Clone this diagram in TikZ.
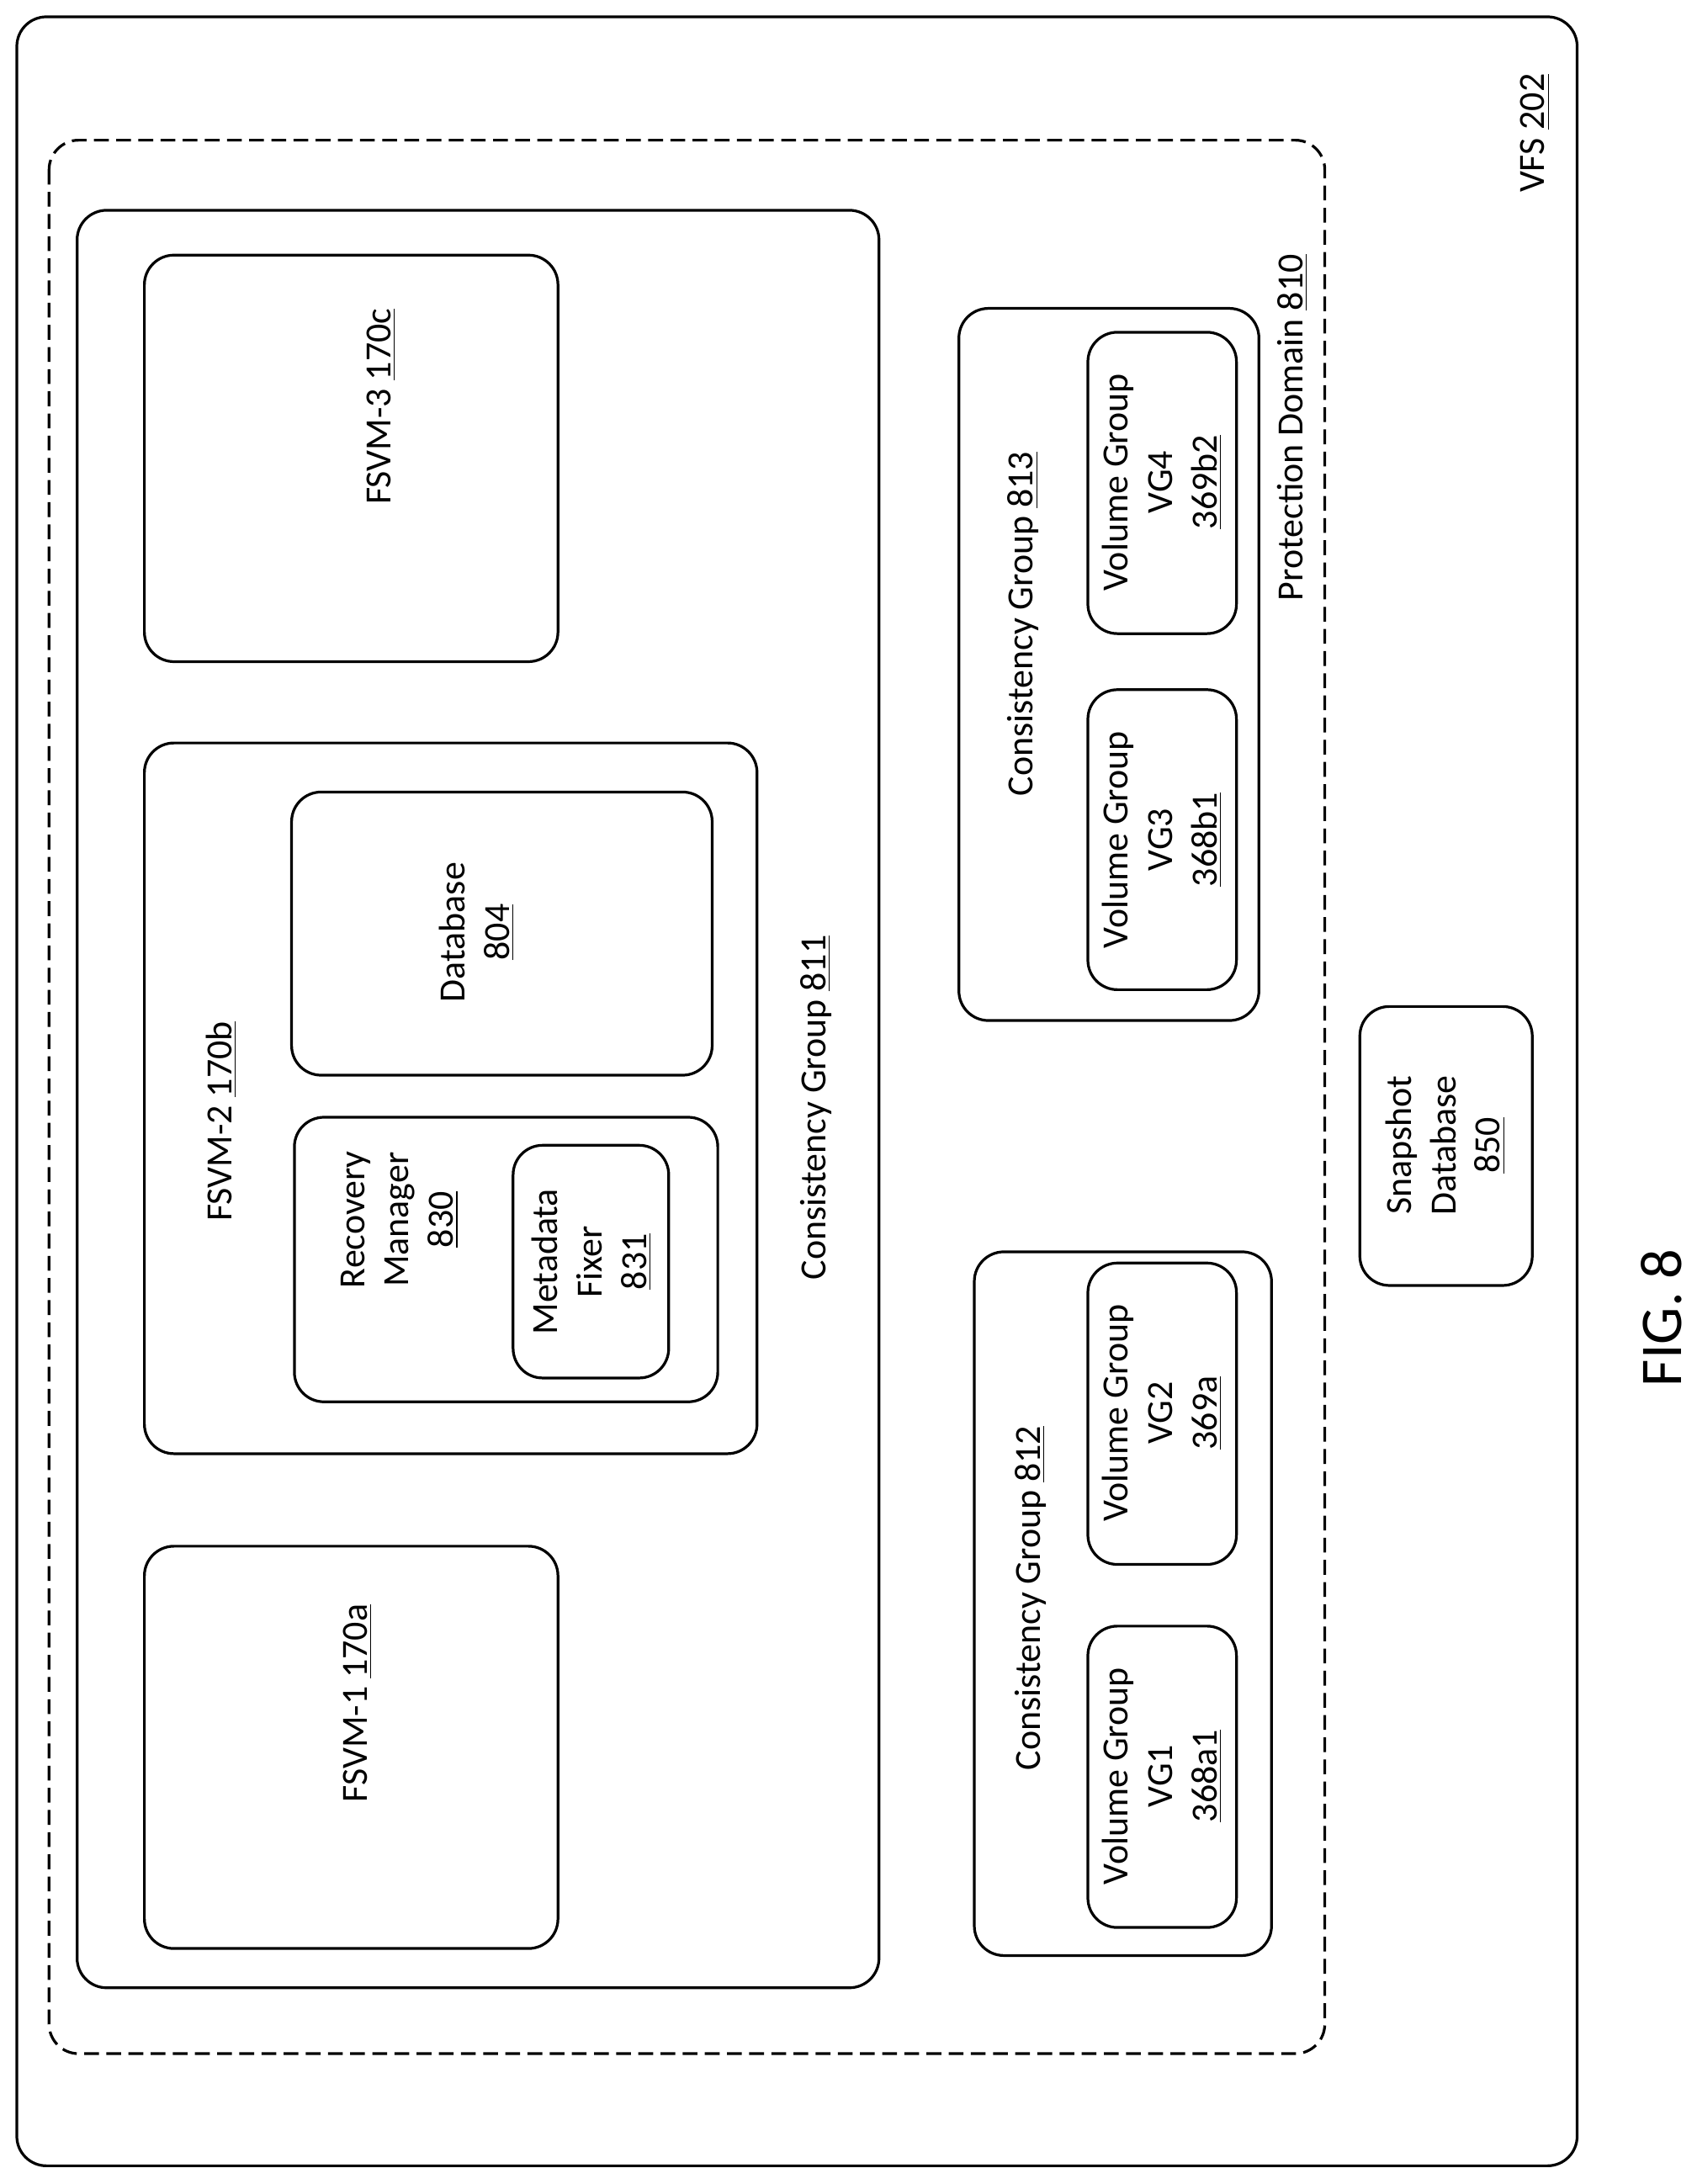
\documentclass[tikz,border=0pt]{standalone}
\usepackage{fontspec}
\setmainfont{Carlito}
\usetikzlibrary{positioning}
\begin{document}
\begin{tikzpicture}[x=0.02cm,y=-0.02cm,line width=1.1pt,font=\fontsize{15}{18}\selectfont]
    \tikzstyle{box}=[draw,rounded corners=12pt]
    \tikzstyle{dbox}=[draw,rounded corners=12pt,dash pattern=on 6pt off 3pt]
    \tikzstyle{lbl}=[rotate=90,align=center,inner sep=0pt]
    \useasboundingbox (0,0) rectangle (1210,1558);

    % outer frames
    \draw[box] (12,12) rectangle (1125,1545);
    \node[lbl] (vfs) at (1095,95) {VFS \underline{202}};
    \draw[dbox] (35,100) rectangle (945,1465);
    \node[lbl] (pd) at (922,305) {Protection Domain \underline{810}};

    % consistency group 811
    \draw[box] (55,150) rectangle (627,1418);
    \node[lbl] (cg811) at (582,790) {Consistency Group \underline{811}};
    \draw[box] (103,182) rectangle (398,472);
    \node[lbl] (fsvm3) at (272,290) {FSVM-3 \underline{170c}};
    \draw[box] (103,530) rectangle (540,1037);
    \node[lbl] (fsvm2) at (158,800) {FSVM-2 \underline{170b}};
    \draw[box] (208,565) rectangle (508,767);
    \node[lbl] (db) at (340,665) {Database\\\underline{804}};
    \draw[box] (210,797) rectangle (512,1000);
    \node[lbl] (rm) at (285,870) {Recovery\\Manager\\\underline{830}};
    \draw[box] (366,817) rectangle (477,983);
    \node[lbl] (mf) at (422,900) {Metadata\\Fixer\\\underline{831}};
    \draw[box] (103,1103) rectangle (398,1390);
    \node[lbl] (fsvm1) at (255,1215) {FSVM-1 \underline{170a}};

    % consistency group 813
    \draw[box] (684,220) rectangle (898,728);
    \node[lbl] (cg813) at (730,445) {Consistency Group \underline{813}};
    \draw[box] (776,492) rectangle (882,706);
    \node[lbl] (vg3) at (829,599) {Volume Group\\VG3\\\underline{368b1}};
    \draw[box] (776,237) rectangle (882,452);
    \node[lbl] (vg4) at (829,344) {Volume Group\\VG4\\\underline{369b2}};

    % consistency group 812
    \draw[box] (695,893) rectangle (907,1395);
    \node[lbl] (cg812) at (735,1140) {Consistency Group \underline{812}};
    \draw[box] (776,901) rectangle (882,1116);
    \node[lbl] (vg2) at (829,1008) {Volume Group\\VG2\\\underline{369a}};
    \draw[box] (776,1160) rectangle (882,1375);
    \node[lbl] (vg1) at (829,1267) {Volume Group\\VG1\\\underline{368a1}};

    % snapshot database
    \draw[box] (970,718) rectangle (1093,917);
    \node[lbl] (snap) at (1031,817) {Snapshot\\Database\\\underline{850}};

    \node[lbl,font=\fontsize{24}{28}\selectfont] (fig) at (1185,940) {FIG. 8};
\end{tikzpicture}
\end{document}
